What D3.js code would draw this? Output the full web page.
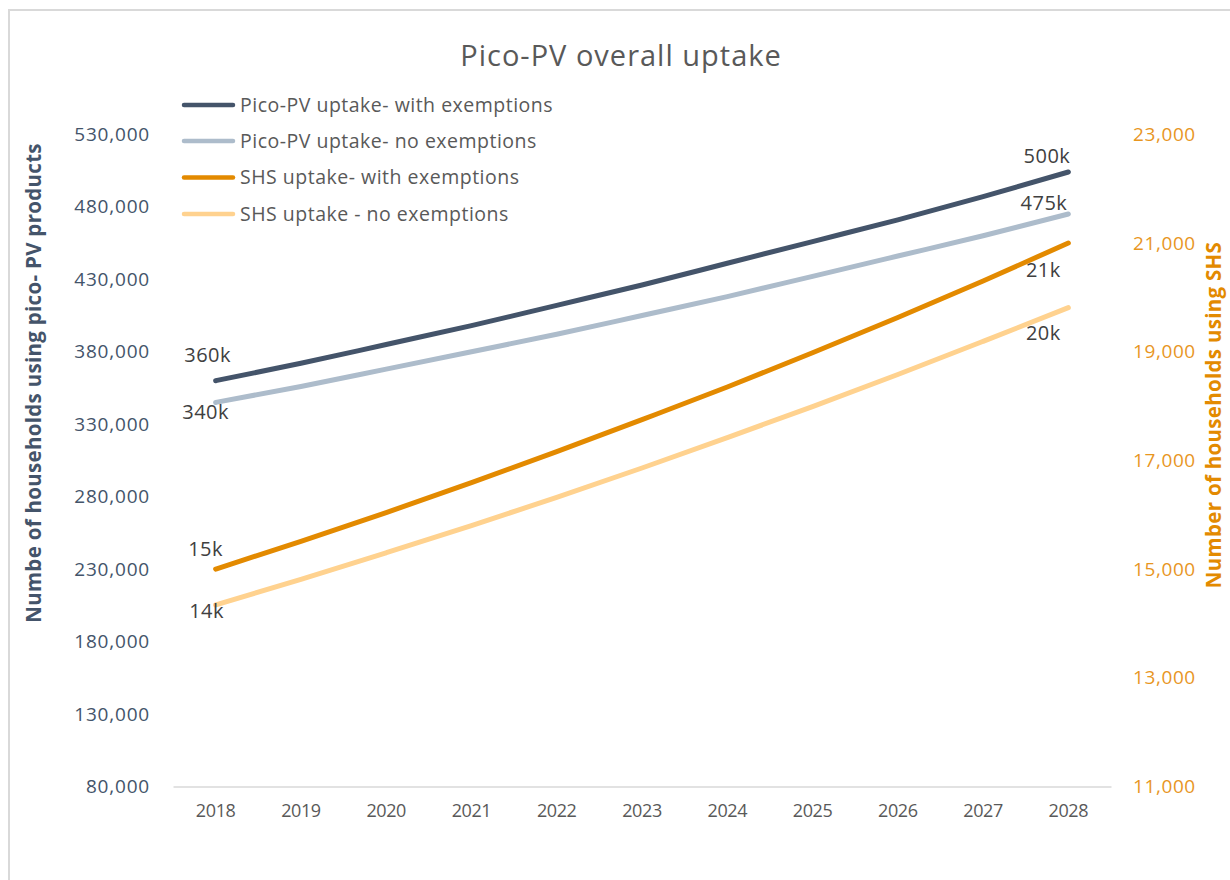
<!DOCTYPE html>
<html>
<head>
<meta charset="utf-8">
<script src="https://cdn.jsdelivr.net/npm/d3@7"></script>
<style>
  html, body { margin: 0; padding: 0; background: #fff; }
  svg { display: block; }
  text { font-family: "Open Sans", "Noto Sans", sans-serif; }
</style>
</head>
<body>
<svg id="chart" width="1230" height="880"></svg>
<script>
// ---------- DATA ----------
const years = ["2018","2019","2020","2021","2022","2023","2024","2025","2026","2027","2028"];
const picoWith = [360000, 372000, 385000, 398000, 412000, 426000, 441000, 456000, 471000, 487000, 504000];
const picoNo   = [345000, 356000, 368000, 380000, 392000, 405000, 418000, 432000, 446000, 460000, 475000];
const shsWith  = [15000, 15510, 16040, 16590, 17160, 17750, 18350, 18980, 19630, 20300, 21000];
const shsNo    = [14340, 14810, 15300, 15800, 16320, 16860, 17420, 17990, 18580, 19190, 19810];
const leftTicks  = [80000, 130000, 180000, 230000, 280000, 330000, 380000, 430000, 480000, 530000];
const rightTicks = [11000, 13000, 15000, 17000, 19000, 21000, 23000];
const seriesNames = ["Pico-PV uptake- with exemptions", "Pico-PV uptake- no exemptions",
                     "SHS uptake- with exemptions", "SHS uptake - no exemptions"];
const startLabels = ["360k", "340k", "15k", "14k"];
const endLabels   = ["500k", "475k", "21k", "20k"];
const title = "Pico-PV overall uptake";
const leftTitle = "Numbe of households using pico- PV products";
const rightTitle = "Number of households using SHS";

// ---------- LAYOUT ----------
const svg = d3.select("#chart");
const plot = { left: 173, right: 1111, top: 134.3, bottom: 786.5 };
const colors = ["#44546A", "#ADBCCB", "#E38A00", "#FFD28F"];
const leftColor = "#44546A", rightColor = "#E8961F";

// border
svg.append("rect").attr("x", 9).attr("y", 10).attr("width", 1240).attr("height", 900)
  .attr("fill", "none").attr("stroke", "#D9D9D9").attr("stroke-width", 2);

const x = d3.scaleBand().domain(years).range([plot.left, plot.right]).paddingInner(0).paddingOuter(0);
const xc = d => x(d) + x.bandwidth() / 2;
const yL = d3.scaleLinear().domain([80000, 530000]).range([plot.bottom, plot.top]);
const yR = d3.scaleLinear().domain([11000, 23000]).range([plot.bottom, plot.top]);

// title
svg.append("text").attr("x", 621).attr("y", 66).attr("text-anchor", "middle")
  .attr("font-size", 29).attr("letter-spacing", "1px").attr("fill", "#595959").text(title);

// left axis
const axL = svg.append("g").attr("transform", `translate(${plot.left},0)`)
  .call(d3.axisLeft(yL).tickValues(leftTicks).tickFormat(d3.format(",")).tickSize(0).tickPadding(23));
axL.select(".domain").remove();
axL.selectAll("text").attr("font-size", 19).attr("fill", leftColor)
  .attr("font-family", "'Open Sans', sans-serif").attr("letter-spacing", "0.8px");

// right axis
const axR = svg.append("g").attr("transform", `translate(${plot.right},0)`)
  .call(d3.axisRight(yR).tickValues(rightTicks).tickFormat(d3.format(",")).tickSize(0).tickPadding(22));
axR.select(".domain").remove();
axR.selectAll("text").attr("font-size", 19).attr("fill", rightColor)
  .attr("font-family", "'Open Sans', sans-serif").attr("letter-spacing", "0.6px");

// x axis
const axX = svg.append("g").attr("transform", `translate(0,${plot.bottom})`)
  .call(d3.axisBottom(x).tickSize(0).tickPadding(18));
axX.select(".domain").attr("stroke", "#D9D9D9").attr("stroke-width", 1.5);
axX.selectAll("text").attr("font-size", 18).attr("fill", "#595959")
  .attr("font-family", "'Open Sans', sans-serif").attr("letter-spacing", "-0.4px");

// axis titles
svg.append("text").attr("transform", `translate(41,383) rotate(-90)`)
  .attr("text-anchor", "middle").attr("font-size", 20.5).attr("font-weight", "bold")
  .attr("fill", leftColor).attr("letter-spacing", "0.3px").text(leftTitle);
svg.append("text").attr("transform", `translate(1221,415) rotate(-90)`)
  .attr("text-anchor", "middle").attr("font-size", 20.5).attr("font-weight", "bold")
  .attr("fill", "#E38A00").attr("letter-spacing", "0.3px").text(rightTitle);

// lines
const series = [
  { vals: picoWith, y: yL },
  { vals: picoNo, y: yL },
  { vals: shsWith, y: yR },
  { vals: shsNo, y: yR }
];
[3, 2, 1, 0].forEach(i => {
  const s = series[i];
  const line = d3.line().x((d, j) => xc(years[j])).y(d => s.y(d)).curve(d3.curveMonotoneX);
  svg.append("path").datum(s.vals).attr("d", line)
    .attr("fill", "none").attr("stroke", colors[i]).attr("stroke-width", 5)
    .attr("stroke-linecap", "round").attr("stroke-linejoin", "round");
});

// data labels
const startOff = [[-8, -26], [-10, 10], [-10, -20], [-9, 6]];
const endOff = [[2, -16, "end"], [-1, -11, "end"], [-25, 27, "middle"], [-25, 25, "middle"]];
series.forEach((s, i) => {
  const x0 = xc(years[0]), y0 = s.y(s.vals[0]);
  svg.append("text").attr("x", x0 + startOff[i][0]).attr("y", y0 + startOff[i][1])
    .attr("dy", "0.35em").attr("text-anchor", "middle").attr("font-size", 20)
    .attr("letter-spacing", "0.5px").attr("fill", "#404040").text(startLabels[i]);
  const n = years.length - 1;
  const x1 = xc(years[n]), y1 = s.y(s.vals[n]);
  svg.append("text").attr("x", x1 + endOff[i][0]).attr("y", y1 + endOff[i][1])
    .attr("dy", "0.35em").attr("text-anchor", endOff[i][2]).attr("font-size", 20)
    .attr("letter-spacing", "0.5px").attr("fill", "#404040").text(endLabels[i]);
});

// legend
const legRows = [105, 141, 177.5, 214];
seriesNames.forEach((name, i) => {
  const g = svg.append("g").attr("transform", `translate(0,${legRows[i]})`);
  g.append("line").attr("x1", 184).attr("x2", 233).attr("y1", 0).attr("y2", 0)
    .attr("stroke", colors[i]).attr("stroke-width", 4.5).attr("stroke-linecap", "round");
  g.append("text").attr("x", 240).attr("y", 0).attr("dy", "0.35em")
    .attr("font-size", 19.5).attr("letter-spacing", "0.5px").attr("fill", "#595959").text(name);
});
</script>
</body>
</html>
